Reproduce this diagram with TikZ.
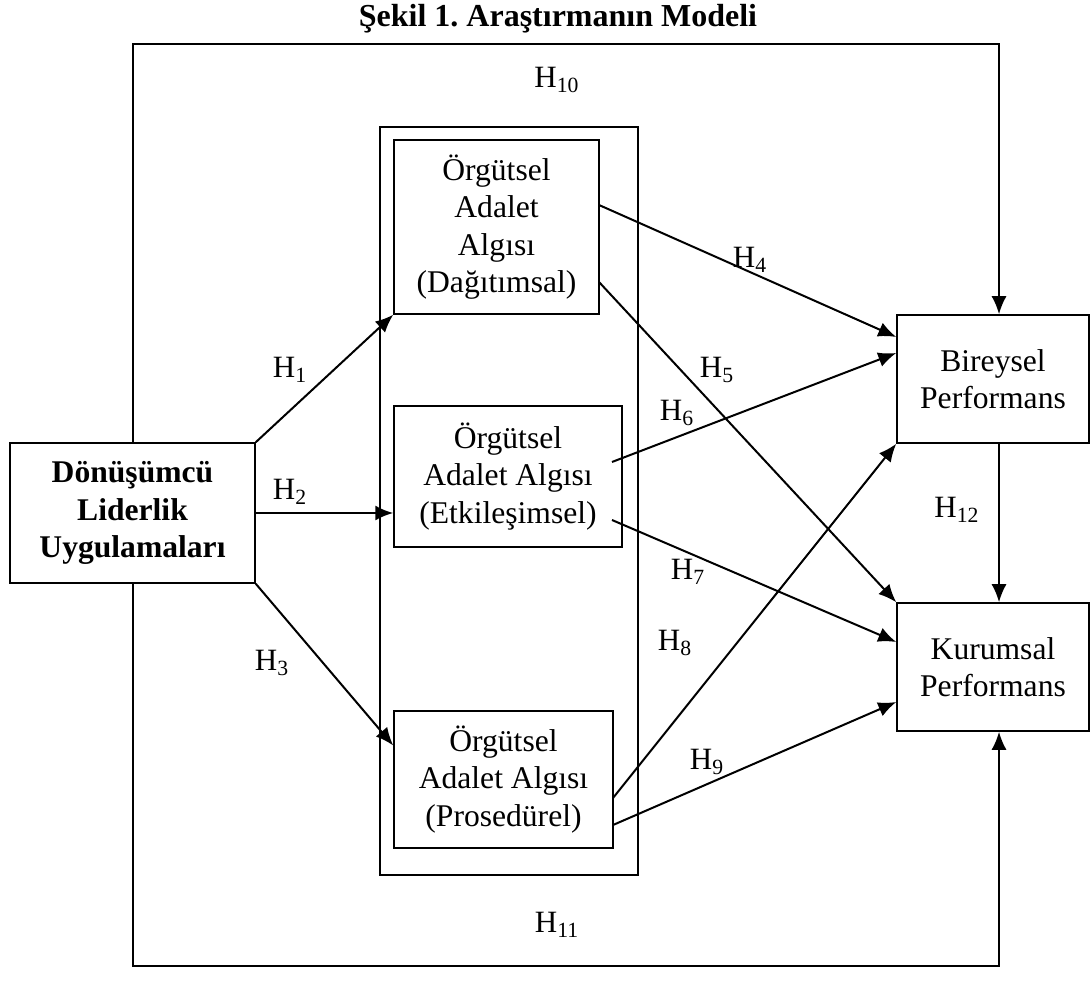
\documentclass[tikz,border=0pt]{standalone}
\usepackage{fontspec}
\setmainfont{Liberation Serif}
\usetikzlibrary{arrows.meta}

\begin{document}
\begin{tikzpicture}[x=0.5pt,y=-0.5pt,
  box/.style={draw,line width=0.75pt,align=center,inner sep=0pt,font=\fontsize{15.8}{18.75}\selectfont},
  hyp/.style={inner sep=1pt,font=\fontsize{15.5}{18}\selectfont},
  link/.style={line width=1pt,-{Latex[length=9pt,width=7.5pt]}},
  frame/.style={draw,line width=1.1pt}]
\useasboundingbox (0,0) rectangle (1092,983);
\node[font=\bfseries\fontsize{16}{19}\selectfont] (title) at (558,19) {Şekil 1.\ Araştırmanın Modeli};
% middle group and boxes
\node[frame,minimum width=129pt,minimum height=374pt] (grp) at (509,501) {};
\node[box,minimum width=102.5pt,minimum height=87pt] (dag) at (496.5,227) {Örgütsel\\Adalet\\Algısı\\(Dağıtımsal)};
\node[box,minimum width=114pt,minimum height=70.5pt] (etk) at (508,476.5) {Örgütsel\\Adalet Algısı\\(Etkileşimsel)};
\node[box,minimum width=109.5pt,minimum height=68.5pt] (pro) at (503.5,779.5) {Örgütsel\\Adalet Algısı\\(Prosedürel)};
\node[box,font=\bfseries\fontsize{15.8}{18.75}\selectfont,minimum width=122.5pt,minimum height=70pt] (don) at (132.5,513) {Dönüşümcü\\Liderlik\\Uygulamaları};
\node[box,minimum width=96pt,minimum height=64pt] (bir) at (993,379) {Bireysel\\Performans};
\node[box,minimum width=96pt,minimum height=64pt] (kur) at (993,667) {Kurumsal\\Performans};
% exits and corners
\coordinate (dag1) at (599,205);
\coordinate (dag2) at (599,282);
\coordinate (etk1) at (612,462);
\coordinate (etk2) at (612,520);
\coordinate (pro1) at (613,798);
\coordinate (pro2) at (613,825);
\coordinate (topR) at (999,44);
\coordinate (botR) at (999,966);
% connectors
\draw[link] (don.north east) -- (dag.south west);
\draw[link] (don.east) -- (don.east -| etk.west);
\draw[link] (don.south east) -- ([yshift=17pt]pro.west);
\draw[link] (dag1) -- ([yshift=21pt]bir.west);
\draw[link] (dag2) -- (kur.north west);
\draw[link] (etk1) -- ([yshift=13pt]bir.west);
\draw[link] (etk2) -- ([yshift=12.5pt]kur.west);
\draw[link] (pro1) -- (bir.south west);
\draw[link] (pro2) -- ([yshift=-17.5pt]kur.west);
\draw[link] (don.north) |- (topR) -- (topR |- bir.north);
\draw[link] (don.south) |- (botR) -- (botR |- kur.south);
\draw[link] (bir.south -| topR) -- (kur.north -| topR);
% labels
\node[hyp] (h1) at (290,370) {H\textsubscript{1}};
\node[hyp] (h2) at (290,492) {H\textsubscript{2}};
\node[hyp] (h3) at (272,663) {H\textsubscript{3}};
\node[hyp] (h4) at (750,260) {H\textsubscript{4}};
\node[hyp] (h5) at (717,370) {H\textsubscript{5}};
\node[hyp] (h6) at (677,413) {H\textsubscript{6}};
\node[hyp] (h7) at (688,572) {H\textsubscript{7}};
\node[hyp] (h8) at (675,643) {H\textsubscript{8}};
\node[hyp] (h9) at (707,762) {H\textsubscript{9}};
\node[hyp] (h10) at (557,80) {H\textsubscript{10}};
\node[hyp] (h11) at (557,925) {H\textsubscript{11}};
\node[hyp] (h12) at (957,510) {H\textsubscript{12}};
\end{tikzpicture}
\end{document}
